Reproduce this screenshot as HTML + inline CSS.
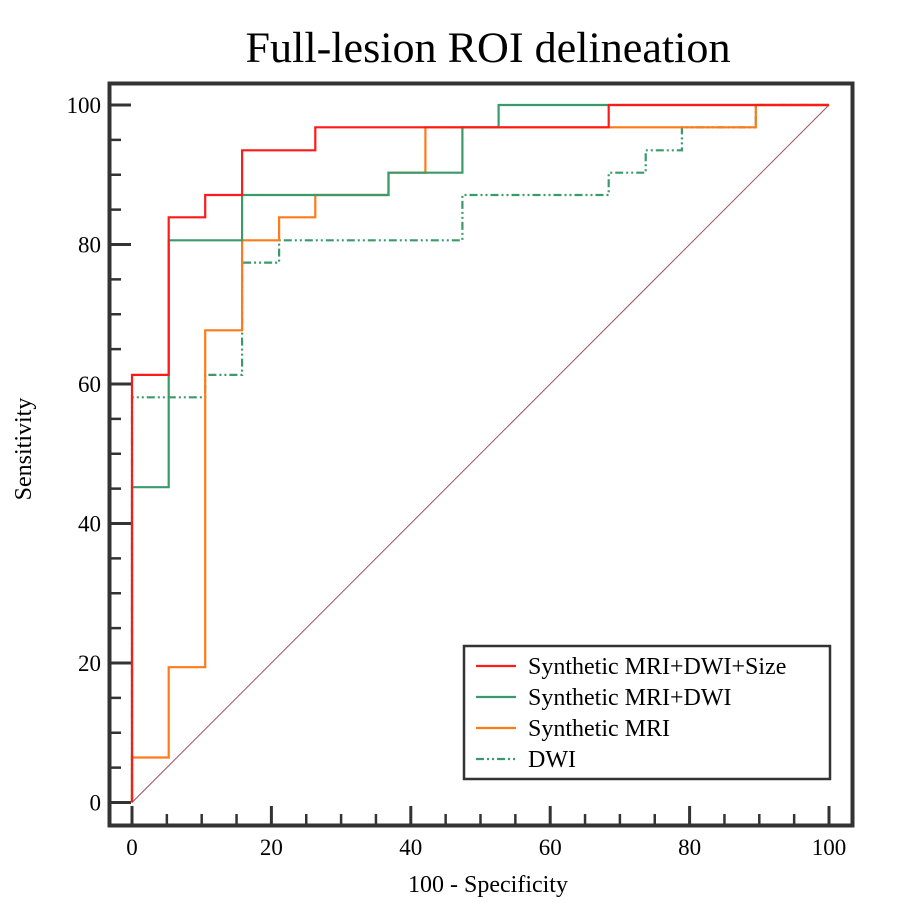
<!DOCTYPE html>
<html><head><meta charset="utf-8"><style>
body{margin:0;background:#fff;}
svg text{font-family:"Liberation Serif",serif;fill:#000;}
</style></head><body>
<svg width="900" height="912" viewBox="0 0 900 912">
<text x="488" y="62" text-anchor="middle" font-size="43" textLength="485" lengthAdjust="spacingAndGlyphs">Full-lesion ROI delineation</text>
<rect x="109.5" y="83.5" width="743" height="742" fill="none" stroke="#333" stroke-width="4"/>
<g id="axes"></g>
<g id="series"></g>
<text x="488" y="892" text-anchor="middle" font-size="24">100 - Specificity</text>
<text x="0" y="0" transform="translate(31,449) rotate(-90)" text-anchor="middle" font-size="24">Sensitivity</text>
<g>
<rect x="464" y="646" width="366" height="133" fill="#fff" stroke="#333" stroke-width="2.5"/>
<g id="legend"></g>
</g>
</svg>
<script>
const xTicks=[0,20,40,60,80,100];
const yTicks=[0,20,40,60,80,100];
const seriesNames=["Synthetic MRI+DWI+Size","Synthetic MRI+DWI","Synthetic MRI","DWI"];
const redX=[0,0,5.26,5.26,10.5,10.5,15.8,15.8,26.3,26.3,68.4,68.4,100];
const redY=[0,61.3,61.3,83.9,83.9,87.1,87.1,93.5,93.5,96.8,96.8,100,100];
const greenX=[0,0,5.26,5.26,15.8,15.8,36.8,36.8,47.4,47.4,52.6,52.6,100];
const greenY=[0,45.2,45.2,80.6,80.6,87.1,87.1,90.3,90.3,96.8,96.8,100,100];
const orangeX=[0,0,5.26,5.26,10.5,10.5,15.8,15.8,21.1,21.1,26.3,26.3,36.8,36.8,42.1,42.1,89.5,89.5,100];
const orangeY=[0,6.45,6.45,19.4,19.4,67.7,67.7,80.6,80.6,83.9,83.9,87.1,87.1,90.3,90.3,96.8,96.8,100,100];
const dwiX=[0,0,10.5,10.5,15.8,15.8,21.1,21.1,47.4,47.4,68.4,68.4,73.7,73.7,78.9,78.9,89.5,89.5,100];
const dwiY=[0,58.1,58.1,61.3,61.3,77.4,77.4,80.6,80.6,87.1,87.1,90.3,90.3,93.5,93.5,96.8,96.8,100,100];

const NS="http://www.w3.org/2000/svg";
const sx=v=>132+v*6.97;
const sy=v=>802.5-v*6.975;
function mk(tag,attrs,parent){const e=document.createElementNS(NS,tag);for(const k in attrs)e.setAttribute(k,attrs[k]);parent.appendChild(e);return e;}
const axes=document.getElementById('axes');
for(let v=0;v<=100;v+=5){
  const major=v%20===0;
  const t=mk('line',{x1:111,x2:major?131:121,y1:sy(v),y2:sy(v),stroke:'#333','stroke-width':major?3:2.5},axes);
  
  
  const b=mk('line',{x1:sx(v),x2:sx(v),y1:824,y2:major?806:814,stroke:'#333','stroke-width':major?3:2.5},axes);
  
  
}
yTicks.forEach(v=>{const t=mk('text',{x:101,y:sy(v)+8,'text-anchor':'end','font-size':23},axes);t.textContent=v;
  
  });
xTicks.forEach(v=>{const t=mk('text',{x:sx(v),y:855,'text-anchor':'middle','font-size':23},axes);t.textContent=v;
  
  });
const ser=document.getElementById('series');
const diag=mk('line',{x1:sx(0),y1:sy(0),x2:sx(100),y2:sy(100),stroke:'#a05060','stroke-width':1},ser);


const defs=[[dwiX,dwiY,'#3a9a6a','8,3,2,3,2,3','series-dwi'],[orangeX,orangeY,'#ff7a1a',null,'series-synthetic-mri'],[greenX,greenY,'#3a9a6a',null,'series-synthetic-mri-dwi'],[redX,redY,'#ff1a1a',null,'series-synthetic-mri-dwi-size']];
defs.forEach(([xs,ys,c,d,n])=>{
  const pts=xs.map((x,i)=>sx(x).toFixed(1)+','+sy(ys[i]).toFixed(1)).join(' ');
  const a={points:pts,fill:'none',stroke:c,'stroke-width':2.2};
  if(d)a['stroke-dasharray']=d;
  const p=mk('polyline',a,ser);
  
  
});
const lg=document.getElementById('legend');
const lc=['#ff1a1a','#3a9a6a','#ff7a1a','#3a9a6a'];
seriesNames.forEach((s,i)=>{
  const y=666+i*31;
  const a={x1:476,x2:516,y1:y,y2:y,stroke:lc[i],'stroke-width':2.2};
  if(i===3)a['stroke-dasharray']='8,3,2,3,2,3';
  const l=mk('line',a,lg);
  
  
  const t=mk('text',{x:528,y:y+8,'font-size':24},lg);t.textContent=s;
  
  
});
</script>
</body></html>
